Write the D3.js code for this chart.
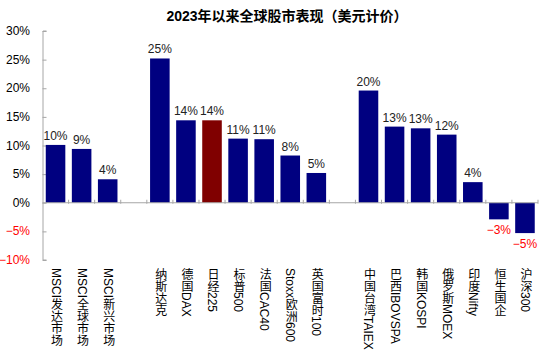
<!DOCTYPE html>
<html><head><meta charset="utf-8">
<script src="https://cdn.jsdelivr.net/npm/d3@7/dist/d3.min.js"></script>
<style>
body{margin:0;background:#fff;}
text{font-family:"Liberation Sans",Arial,"Noto Sans CJK SC",sans-serif;}
</style></head>
<body><svg id="c" width="550" height="357"></svg>
<script>
const title = "2023年以来全球股市表现（美元计价）";
const categories = ["MSCI发达市场","MSCI全球市场","MSCI新兴市场","",
  "纳斯达克","德国DAX","日经225","标普500","法国CAC40","Stoxx欧洲600","英国富时100","",
  "中国台湾TAIEX","巴西IBOVSPA","韩国KOSPI","俄罗斯MOEX","印度Nifty","恒生国企","沪深300"];
const values = [10.1, 9.4, 4.1, null,
  25.2, 14.4, 14.4, 11.2, 11.1, 8.25, 5.2, null,
  19.6, 13.3, 13.0, 11.9, 3.6, -2.9, -5.3];
const highlight = ["日经225"];
const yTicks = [30, 25, 20, 15, 10, 5, 0, -5, -10];

const svg = d3.select("#c");
const x = d3.scaleBand().domain(d3.range(categories.length)).range([42.5, 538]).paddingInner(0.25).paddingOuter(0.125);
const y = d3.scaleLinear().domain([-10, 30]).range([260, 31]);
const fmt = v => d3.format(".0f")(v) + "%";

svg.append("text").attr("x", 287).attr("y", 21).attr("text-anchor", "middle")
  .style("font-size", "14px").style("font-weight", "bold").attr("fill", "#000").text(title);

// y axis
const yAxis = svg.append("g").attr("transform", "translate(42.5,0)")
  .call(d3.axisRight(y).tickValues(yTicks).tickSize(4).tickFormat(""));
yAxis.select(".domain").attr("stroke", "#a6a6a6").attr("d", "M4," + y(30) + "H0.5V" + y(-10) + "H4");
yAxis.selectAll(".tick line").attr("stroke", "#a6a6a6");
svg.append("g").selectAll("text").data(yTicks).join("text")
  .attr("x", 30).attr("y", d => y(d) + 4).attr("text-anchor", "end")
  .style("font-size", "12px").attr("fill", d => d < 0 ? "#ff0000" : "#000").text(fmt);

// bars
const data = categories.map((c, i) => ({c, i, v: values[i]})).filter(d => d.v !== null);
svg.append("g").selectAll("rect").data(data).join("rect")
  .attr("x", d => x(d.i)).attr("width", x.bandwidth())
  .attr("y", d => y(Math.max(0, d.v))).attr("height", d => Math.abs(y(d.v) - y(0)))
  .attr("fill", d => highlight.includes(d.c) ? "#800000" : "#000080");

// x axis zero line with ticks at boundaries
const boundaries = d3.range(categories.length + 1).map(i => 42.5 + i * x.step());
svg.append("line").attr("x1", 42.5).attr("x2", 538).attr("y1", y(0)).attr("y2", y(0)).attr("stroke", "#a6a6a6");
svg.append("g").selectAll("line").data(boundaries.slice(1)).join("line")
  .attr("x1", d => d).attr("x2", d => d).attr("y1", y(0) - 3).attr("y2", y(0) + 1).attr("stroke", "#a6a6a6");

// value labels
svg.append("g").selectAll("text").data(data).join("text")
  .attr("x", d => x(d.i) + x.bandwidth() / 2)
  .attr("y", d => d.v >= 0 ? y(d.v) - 5 : y(d.v) + 15)
  .attr("text-anchor", "middle").style("font-size", "12px")
  .attr("fill", d => d.v < 0 ? "#ff0000" : "#222").text(d => fmt(d.v));

// category labels (vertical)
svg.append("g").selectAll("text").data(data).join("text")
  .attr("x", d => x(d.i) + x.bandwidth() / 2).attr("y", 268)
  .style("writing-mode", "vertical-rl").style("font-size", "12px")
  .attr("fill", "#000").text(d => d.c);
</script></body></html>
